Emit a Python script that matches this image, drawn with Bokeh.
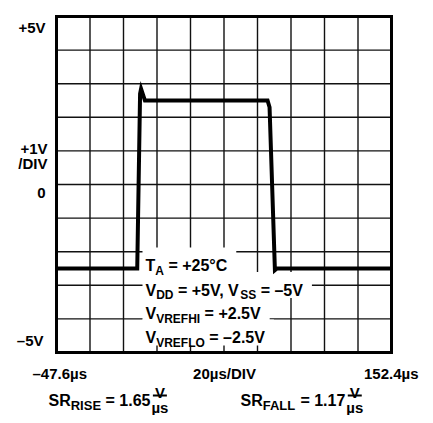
from bokeh.plotting import figure
from bokeh.models import Label, Range1d
from bokeh.embed import file_html
from bokeh.resources import INLINE

# ---- data ----
x_min, x_max = -47.6, 152.4        # microseconds
y_min, y_max = -5.0, 5.0           # volts
x_div = 20.0
y_div = 1.0
trace_t = [-47.6, 0.6, 2.3, 2.9, 5.2, 78.4, 79.6, 82.8, 84.0, 152.4]
trace_v = [-2.5, -2.5, 2.7, 2.85, 2.5, 2.5, 2.3, -2.55, -2.5, -2.5]
y_labels = ["+5V", "+1V", "/DIV", "0", "–5V"]
x_labels = ["–47.6µs", "20µs/DIV", "152.4µs"]
cond_rows = [
    [("T", 0), ("A", 1), (" = +25°C", 0)],
    [("V", 0), ("DD", 1), (" = +5V, V", 0), ("SS", 1), (" = –5V", 0)],
    [("V", 0), ("VREFHI", 1), (" = +2.5V", 0)],
    [("V", 0), ("VREFLO", 1), (" = –2.5V", 0)],
]
sr_items = [("RISE", "1.65"), ("FALL", "1.17")]

FONT = "Liberation Sans"
W = {' ': 278, '+': 584, '=': 584, '–': 556, '.': 278, ',': 278, '°': 400, '/': 278,
     'µ': 611, 's': 556, 'A': 722, 'C': 722, 'D': 722, 'E': 667, 'F': 611, 'H': 722,
     'I': 278, 'L': 611, 'O': 778, 'R': 722, 'S': 667, 'T': 611, 'V': 667}
for d in "0123456789":
    W[d] = 556


def tw(s, size):
    return sum(W.get(c, 600) for c in s) * size / 1000.0


PW, PH = 425, 415
FL, FT, FW, FH = 56.0, 16.0, 335.0, 336.0   # plot box in canvas pixels


def X(px):
    return x_min + (px - FL) / FW * (x_max - x_min)


def Y(py):
    return y_max - (py - FT) / FH * (y_max - y_min)


p = figure(width=PW, height=PH, output_backend="svg", toolbar_location=None,
           x_range=Range1d(X(0), X(PW)), y_range=Range1d(Y(PH), Y(0)),
           min_border=0, min_border_left=0, min_border_right=0,
           min_border_top=0, min_border_bottom=0)
p.xaxis.visible = False
p.yaxis.visible = False
p.xgrid.visible = False
p.ygrid.visible = False
p.background_fill_color = "white"
p.border_fill_color = "white"
p.outline_line_color = None

# ---- grid (one line per division) ----
nx = int(round((x_max - x_min) / x_div))
ny = int(round((y_max - y_min) / y_div))
xt = [x_min + i * x_div for i in range(1, nx)]
yt = [y_min + i * y_div for i in range(1, ny)]
p.segment(x0=xt, x1=xt, y0=[y_min] * len(xt), y1=[y_max] * len(xt),
          line_color="#111111", line_width=1.4)
p.segment(x0=[x_min] * len(yt), x1=[x_max] * len(yt), y0=yt, y1=yt,
          line_color="#111111", line_width=1.4)


def lab(txt, px, py, size, align="left"):
    lead = len(txt) - len(txt.lstrip(" "))
    if lead and align == "left":
        px += tw(" " * lead, size)
    txt = txt.strip(" ")
    p.add_layout(Label(x=X(px), y=Y(py), text=txt,
                       text_font=FONT, text_font_style="bold",
                       text_font_size=f"{size}px", text_align=align,
                       text_baseline="alphabetic", text_color="black"))


# ---- white boxes behind the condition text ----
MAIN, SUB = 16, 12
x_start = 145.0
baselines = [265.0, 289.5, 313.0, 337.0]
lefts, rights, tops, bottoms = [], [], [], []
row_layout = []
for row, base in zip(cond_rows, baselines):
    x = x_start
    pieces = []
    for txt, sub in row:
        size = SUB if sub else MAIN
        pieces.append((txt, x, base + (5 if sub else 0), size))
        x += tw(txt, size)
    row_layout.append(pieces)
    lefts.append(X(x_start - 3))
    rights.append(X(x + 9))
    tops.append(Y(base - 18))
    bottoms.append(Y(base + 8))
p.quad(left=lefts, right=rights, top=tops, bottom=bottoms,
       fill_color="white", line_color=None)

# ---- trace ----
p.line(trace_t, trace_v, line_color="black", line_width=4, line_join="miter")

# ---- plot box ----
p.quad(left=[x_min], right=[x_max], bottom=[y_min], top=[y_max],
       fill_color=None, line_color="black", line_width=3, line_join="miter")

for pieces in row_layout:
    for txt, px, py, size in pieces:
        lab(txt, px, py, size)

# ---- y labels ----
AX = 15
lab(y_labels[0], 45, 27, AX, "right")
lab(y_labels[1], 47, 148, AX, "right")
lab(y_labels[2], 47, 163, AX, "right")
lab(y_labels[3], 45, 192, AX, "right")
lab(y_labels[4], 43, 340, AX, "right")

# ---- x labels ----
lab(x_labels[0], 32, 373, AX, "left")
lab(x_labels[1], 224, 373, AX, "center")
lab(x_labels[2], 418, 373, AX, "right")

# ---- slew rate line ----
bar_x0, bar_x1, bar_y = [], [], []
for (sub, val), x0 in zip(sr_items, [48.0, 240.0]):
    x = x0
    lab("SR", x, 400, MAIN)
    x += tw("SR", MAIN)
    lab(sub, x, 405, 13)
    x += tw(sub, 13)
    eq = f" = {val} "
    lab(eq, x, 400, MAIN)
    x += tw(eq, MAIN)
    cx = x + 5
    lab("V", cx, 392, 15, "center")
    lab("µs", cx, 407, 15, "center")
    bar_x0.append(X(cx - 7))
    bar_x1.append(X(cx + 7))
    bar_y.append(Y(395))
p.segment(x0=bar_x0, x1=bar_x1, y0=bar_y, y1=bar_y, line_color="black", line_width=2)

open("out.html", "w").write(file_html(p, INLINE))
